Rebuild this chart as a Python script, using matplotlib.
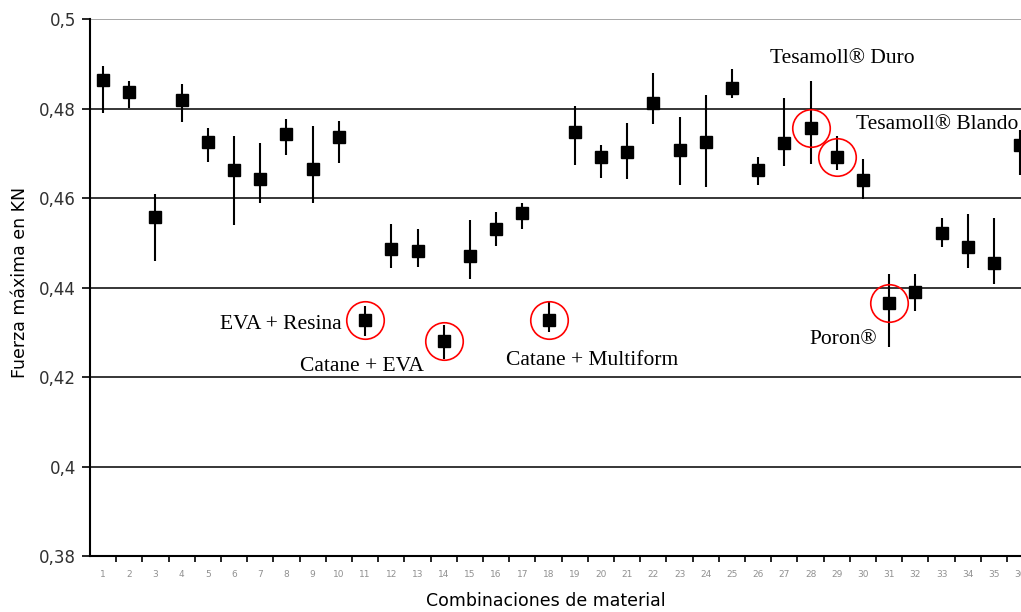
import matplotlib
matplotlib.use("Agg")
import matplotlib.pyplot as plt
import numpy as np

# mean max force per material combination, with error bar ends
combos = list(range(1, 37))
means = [0.4864, 0.4838, 0.4558, 0.4820, 0.4726, 0.4663, 0.4644, 0.4744, 0.4666, 0.4737,
         0.4328, 0.4486, 0.4483, 0.4280, 0.4471, 0.4531, 0.4566, 0.4328, 0.4749, 0.4692,
         0.4704, 0.4812, 0.4708, 0.4726, 0.4846, 0.4662, 0.4723, 0.4756, 0.4692, 0.4641,
         0.4365, 0.4391, 0.4522, 0.4490, 0.4456, 0.4719]
tops = [0.4896, 0.4861, 0.4609, 0.4855, 0.4757, 0.4740, 0.4724, 0.4778, 0.4762, 0.4773,
        0.4358, 0.4542, 0.4531, 0.4317, 0.4552, 0.4568, 0.4589, 0.4368, 0.4806, 0.4719,
        0.4769, 0.4881, 0.4782, 0.4831, 0.4889, 0.4692, 0.4823, 0.4861, 0.4739, 0.4687,
        0.4431, 0.4431, 0.4555, 0.4564, 0.4555, 0.4753]
bottoms = [0.4790, 0.4801, 0.4460, 0.4770, 0.4680, 0.4539, 0.4589, 0.4696, 0.4589, 0.4678,
           0.4292, 0.4444, 0.4447, 0.4240, 0.4419, 0.4493, 0.4531, 0.4301, 0.4675, 0.4646,
           0.4642, 0.4766, 0.4630, 0.4626, 0.4823, 0.4630, 0.4672, 0.4676, 0.4663, 0.4598,
           0.4268, 0.4347, 0.4490, 0.4445, 0.4408, 0.4652]

# highlighted combinations and their labels
marked = [11, 14, 18, 28, 29, 31]
labels = ["EVA + Resina", "Catane + EVA", "Catane + Multiform",
          "Tesamoll® Duro", "Tesamoll® Blando", "Poron®"]
label_pos = [(10.12, 0.4317), (13.25, 0.4223), (19.68, 0.4237),
             (29.22, 0.4913), (32.85, 0.4764), (30.54, 0.4283)]
label_ha = ["right", "right", "center", "center", "center", "right"]

yticks = [0.38, 0.4, 0.42, 0.44, 0.46, 0.48, 0.5]
ytick_labels = ["0,38", "0,4", "0,42", "0,44", "0,46", "0,48", "0,5"]

fig = plt.figure(figsize=(10.21, 6.12), dpi=100)
ax = fig.add_axes([0.0881, 0.0915, 0.9119, 0.877])

for y in yticks[1:-1]:
    ax.axhline(y, color="black", lw=1.1, zorder=1)
ax.axhline(0.5, color="#a0a0a0", lw=1.3, zorder=1)

x = np.array(combos)
m = np.array(means)
err = [m - np.array(bottoms), np.array(tops) - m]
ax.errorbar(x, m, yerr=err, fmt="s", color="black", ms=8.5, elinewidth=1.5,
            capsize=0, zorder=3)

mk = [means[c - 1] for c in marked]
ax.plot(marked, mk, "o", ms=27, mfc="none", mec="red", mew=1.2, zorder=4)

for t, (px, py), ha in zip(labels, label_pos, label_ha):
    ax.text(px, py, t, ha=ha, va="center", fontsize=15.5, family="Liberation Serif")

ax.set_xlim(0.5, 36.03)
ax.set_ylim(0.38, 0.5)
ax.set_yticks(yticks)
ax.set_yticklabels(ytick_labels, fontsize=12, color="#303030", family="DejaVu Sans")
ax.set_xticks(combos)
ax.set_xticklabels([str(c) for c in combos], fontsize=6.5, color="#909090")
ax.set_xticks(np.arange(1.5, 36.5, 1), minor=True)
ax.tick_params(axis="x", which="major", length=0, pad=10)
ax.tick_params(axis="x", which="minor", length=4, width=1.2, direction="out")
ax.tick_params(axis="y", length=6, width=1.2, direction="out", pad=4)

for s in ["top", "right"]:
    ax.spines[s].set_visible(False)
ax.spines["left"].set_linewidth(1.5)
ax.spines["bottom"].set_linewidth(1.5)

ax.set_ylabel("Fuerza máxima en KN", fontsize=12.5, family="DejaVu Sans")
ax.yaxis.set_label_coords(-0.066, 0.51)
ax.set_xlabel("Combinaciones de material", fontsize=12.5, family="DejaVu Sans")
ax.xaxis.set_label_coords(0.49, -0.067)

fig.savefig("out.png", dpi=100)
